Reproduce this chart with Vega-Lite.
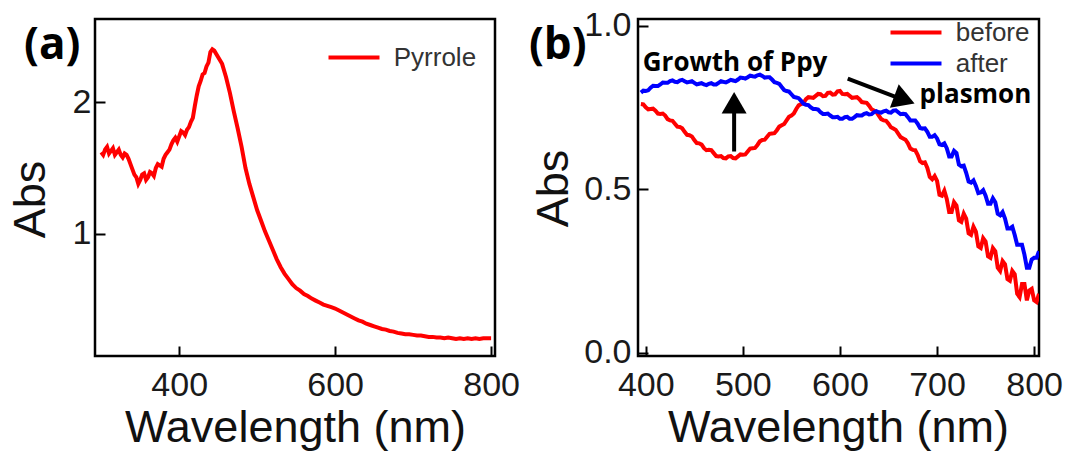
{
  "$schema": "https://vega.github.io/schema/vega-lite/v6.json",
  "padding": {"left": 6, "top": 7, "right": 0, "bottom": 0},
  "background": "white",
  "bounds": "flush",
  "spacing": 143,
  "resolve": {"scale": {"color": "independent"}, "legend": {"color": "independent"}},
  "config": {
    "view": {"stroke": "#000", "strokeWidth": 2.5},
    "axis": {
      "domain": false, "grid": false, "ticks": true, "tickColor": "#000", "tickWidth": 2, "tickSize": -10,
      "labelFont": "Liberation Sans", "labelFontSize": 34, "labelColor": "#1a1a1a",
      "labelOverlap": false, "labelFlush": false,
      "titleFont": "Liberation Sans", "titleFontSize": 45, "titleFontWeight": "normal", "titleColor": "#111"
    },
    "legend": {
      "orient": "none", "title": null, "padding": 0,
      "labelFont": "Liberation Sans", "labelFontSize": 26, "labelColor": "#333",
      "symbolType": "M-2,0H2", "symbolStrokeWidth": 4, "symbolSize": 650,
      "labelOffset": 24.75, "rowPadding": 3
    }
  },
  "datasets": {
    "pyrrole": [
      {"wavelength": 300, "abs": 1.62}, {"wavelength": 302.5, "abs": 1.60}, {"wavelength": 305, "abs": 1.64}, {"wavelength": 307.5, "abs": 1.66},
      {"wavelength": 310, "abs": 1.61}, {"wavelength": 312.5, "abs": 1.63}, {"wavelength": 315, "abs": 1.65}, {"wavelength": 317.5, "abs": 1.60},
      {"wavelength": 320, "abs": 1.62}, {"wavelength": 322.5, "abs": 1.64}, {"wavelength": 325, "abs": 1.60}, {"wavelength": 327.5, "abs": 1.58},
      {"wavelength": 330, "abs": 1.61}, {"wavelength": 332.5, "abs": 1.60}, {"wavelength": 335, "abs": 1.57}, {"wavelength": 337.5, "abs": 1.53},
      {"wavelength": 340, "abs": 1.49}, {"wavelength": 342.5, "abs": 1.45}, {"wavelength": 345, "abs": 1.43}, {"wavelength": 347.5, "abs": 1.38},
      {"wavelength": 350, "abs": 1.41}, {"wavelength": 352.5, "abs": 1.45}, {"wavelength": 355, "abs": 1.46}, {"wavelength": 357.5, "abs": 1.41},
      {"wavelength": 360, "abs": 1.43}, {"wavelength": 362.5, "abs": 1.47}, {"wavelength": 365, "abs": 1.46}, {"wavelength": 367.5, "abs": 1.44},
      {"wavelength": 370, "abs": 1.50}, {"wavelength": 372.5, "abs": 1.53}, {"wavelength": 375, "abs": 1.52}, {"wavelength": 377.5, "abs": 1.51},
      {"wavelength": 380, "abs": 1.57}, {"wavelength": 382.5, "abs": 1.60}, {"wavelength": 385, "abs": 1.62}, {"wavelength": 387.5, "abs": 1.64},
      {"wavelength": 390, "abs": 1.68}, {"wavelength": 392.5, "abs": 1.71}, {"wavelength": 395, "abs": 1.73}, {"wavelength": 397.5, "abs": 1.70},
      {"wavelength": 400, "abs": 1.74}, {"wavelength": 402.5, "abs": 1.78}, {"wavelength": 405, "abs": 1.77}, {"wavelength": 407.5, "abs": 1.75},
      {"wavelength": 410, "abs": 1.79}, {"wavelength": 412.5, "abs": 1.81}, {"wavelength": 415, "abs": 1.85}, {"wavelength": 417.5, "abs": 1.88},
      {"wavelength": 420, "abs": 1.97}, {"wavelength": 422.5, "abs": 2.05}, {"wavelength": 425, "abs": 2.12}, {"wavelength": 427.5, "abs": 2.16},
      {"wavelength": 430, "abs": 2.21}, {"wavelength": 432.5, "abs": 2.22}, {"wavelength": 435, "abs": 2.27}, {"wavelength": 437.5, "abs": 2.30},
      {"wavelength": 440, "abs": 2.38}, {"wavelength": 442.5, "abs": 2.40}, {"wavelength": 445, "abs": 2.39}, {"wavelength": 450, "abs": 2.34},
      {"wavelength": 455, "abs": 2.29}, {"wavelength": 460, "abs": 2.19}, {"wavelength": 465, "abs": 2.07}, {"wavelength": 470, "abs": 1.93},
      {"wavelength": 475, "abs": 1.80}, {"wavelength": 480, "abs": 1.66}, {"wavelength": 485, "abs": 1.50}, {"wavelength": 490, "abs": 1.38},
      {"wavelength": 495, "abs": 1.28}, {"wavelength": 500, "abs": 1.18}, {"wavelength": 505, "abs": 1.10}, {"wavelength": 510, "abs": 1.02},
      {"wavelength": 515, "abs": 0.95}, {"wavelength": 520, "abs": 0.88}, {"wavelength": 525, "abs": 0.81}, {"wavelength": 530, "abs": 0.75},
      {"wavelength": 535, "abs": 0.70}, {"wavelength": 540, "abs": 0.66}, {"wavelength": 545, "abs": 0.62}, {"wavelength": 550, "abs": 0.59},
      {"wavelength": 555, "abs": 0.57}, {"wavelength": 560, "abs": 0.545}, {"wavelength": 565, "abs": 0.53}, {"wavelength": 570, "abs": 0.51},
      {"wavelength": 575, "abs": 0.495}, {"wavelength": 580, "abs": 0.48}, {"wavelength": 585, "abs": 0.465}, {"wavelength": 590, "abs": 0.455},
      {"wavelength": 595, "abs": 0.445}, {"wavelength": 600, "abs": 0.435}, {"wavelength": 605, "abs": 0.42}, {"wavelength": 610, "abs": 0.405},
      {"wavelength": 615, "abs": 0.39}, {"wavelength": 620, "abs": 0.375}, {"wavelength": 625, "abs": 0.36}, {"wavelength": 630, "abs": 0.345},
      {"wavelength": 635, "abs": 0.335}, {"wavelength": 640, "abs": 0.32}, {"wavelength": 645, "abs": 0.31}, {"wavelength": 650, "abs": 0.30},
      {"wavelength": 655, "abs": 0.29}, {"wavelength": 660, "abs": 0.28}, {"wavelength": 665, "abs": 0.275}, {"wavelength": 670, "abs": 0.265},
      {"wavelength": 675, "abs": 0.26}, {"wavelength": 680, "abs": 0.25}, {"wavelength": 685, "abs": 0.245}, {"wavelength": 690, "abs": 0.24},
      {"wavelength": 695, "abs": 0.24}, {"wavelength": 700, "abs": 0.235}, {"wavelength": 705, "abs": 0.23}, {"wavelength": 710, "abs": 0.23},
      {"wavelength": 715, "abs": 0.225}, {"wavelength": 720, "abs": 0.22}, {"wavelength": 725, "abs": 0.22}, {"wavelength": 730, "abs": 0.215},
      {"wavelength": 735, "abs": 0.215}, {"wavelength": 740, "abs": 0.21}, {"wavelength": 745, "abs": 0.215}, {"wavelength": 750, "abs": 0.21},
      {"wavelength": 755, "abs": 0.205}, {"wavelength": 760, "abs": 0.21}, {"wavelength": 765, "abs": 0.205}, {"wavelength": 770, "abs": 0.21},
      {"wavelength": 775, "abs": 0.205}, {"wavelength": 780, "abs": 0.21}, {"wavelength": 785, "abs": 0.205}, {"wavelength": 790, "abs": 0.21},
      {"wavelength": 795, "abs": 0.21}, {"wavelength": 800, "abs": 0.21}
    ],
    "ppy": [
      {"series": "before", "wavelength": 395, "abs": 0.76}, {"series": "before", "wavelength": 397.5, "abs": 0.759}, {"series": "before", "wavelength": 400, "abs": 0.75}, {"series": "before", "wavelength": 402.5, "abs": 0.744},
      {"series": "before", "wavelength": 405, "abs": 0.745}, {"series": "before", "wavelength": 407.5, "abs": 0.746}, {"series": "before", "wavelength": 410, "abs": 0.74}, {"series": "before", "wavelength": 412.5, "abs": 0.731},
      {"series": "before", "wavelength": 415, "abs": 0.73}, {"series": "before", "wavelength": 417.5, "abs": 0.731}, {"series": "before", "wavelength": 420, "abs": 0.725}, {"series": "before", "wavelength": 422.5, "abs": 0.714},
      {"series": "before", "wavelength": 425, "abs": 0.71}, {"series": "before", "wavelength": 427.5, "abs": 0.709}, {"series": "before", "wavelength": 430, "abs": 0.70}, {"series": "before", "wavelength": 432.5, "abs": 0.691},
      {"series": "before", "wavelength": 435, "abs": 0.69}, {"series": "before", "wavelength": 437.5, "abs": 0.686}, {"series": "before", "wavelength": 440, "abs": 0.675}, {"series": "before", "wavelength": 442.5, "abs": 0.666},
      {"series": "before", "wavelength": 445, "abs": 0.665}, {"series": "before", "wavelength": 447.5, "abs": 0.661}, {"series": "before", "wavelength": 450, "abs": 0.65}, {"series": "before", "wavelength": 452.5, "abs": 0.641},
      {"series": "before", "wavelength": 455, "abs": 0.64}, {"series": "before", "wavelength": 457.5, "abs": 0.636}, {"series": "before", "wavelength": 460, "abs": 0.625}, {"series": "before", "wavelength": 462.5, "abs": 0.619},
      {"series": "before", "wavelength": 465, "abs": 0.62}, {"series": "before", "wavelength": 467.5, "abs": 0.619}, {"series": "before", "wavelength": 470, "abs": 0.61}, {"series": "before", "wavelength": 472.5, "abs": 0.601},
      {"series": "before", "wavelength": 475, "abs": 0.60}, {"series": "before", "wavelength": 477.5, "abs": 0.601}, {"series": "before", "wavelength": 480, "abs": 0.595}, {"series": "before", "wavelength": 482.5, "abs": 0.594},
      {"series": "before", "wavelength": 485, "abs": 0.60}, {"series": "before", "wavelength": 487.5, "abs": 0.601}, {"series": "before", "wavelength": 490, "abs": 0.595}, {"series": "before", "wavelength": 492.5, "abs": 0.594},
      {"series": "before", "wavelength": 495, "abs": 0.60}, {"series": "before", "wavelength": 497.5, "abs": 0.606}, {"series": "before", "wavelength": 500, "abs": 0.605}, {"series": "before", "wavelength": 502.5, "abs": 0.606},
      {"series": "before", "wavelength": 505, "abs": 0.615}, {"series": "before", "wavelength": 507.5, "abs": 0.624}, {"series": "before", "wavelength": 510, "abs": 0.625}, {"series": "before", "wavelength": 512.5, "abs": 0.626},
      {"series": "before", "wavelength": 515, "abs": 0.635}, {"series": "before", "wavelength": 517.5, "abs": 0.646}, {"series": "before", "wavelength": 520, "abs": 0.65}, {"series": "before", "wavelength": 522.5, "abs": 0.651},
      {"series": "before", "wavelength": 525, "abs": 0.66}, {"series": "before", "wavelength": 527.5, "abs": 0.669}, {"series": "before", "wavelength": 530, "abs": 0.67}, {"series": "before", "wavelength": 532.5, "abs": 0.671},
      {"series": "before", "wavelength": 535, "abs": 0.68}, {"series": "before", "wavelength": 537.5, "abs": 0.691}, {"series": "before", "wavelength": 540, "abs": 0.695}, {"series": "before", "wavelength": 542.5, "abs": 0.699},
      {"series": "before", "wavelength": 545, "abs": 0.71}, {"series": "before", "wavelength": 547.5, "abs": 0.721}, {"series": "before", "wavelength": 550, "abs": 0.725}, {"series": "before", "wavelength": 552.5, "abs": 0.731},
      {"series": "before", "wavelength": 555, "abs": 0.745}, {"series": "before", "wavelength": 557.5, "abs": 0.756}, {"series": "before", "wavelength": 560, "abs": 0.76}, {"series": "before", "wavelength": 562.5, "abs": 0.764},
      {"series": "before", "wavelength": 565, "abs": 0.775}, {"series": "before", "wavelength": 567.5, "abs": 0.781}, {"series": "before", "wavelength": 570, "abs": 0.78}, {"series": "before", "wavelength": 572.5, "abs": 0.779},
      {"series": "before", "wavelength": 575, "abs": 0.785}, {"series": "before", "wavelength": 577.5, "abs": 0.791}, {"series": "before", "wavelength": 580, "abs": 0.79}, {"series": "before", "wavelength": 582.5, "abs": 0.784},
      {"series": "before", "wavelength": 585, "abs": 0.785}, {"series": "before", "wavelength": 587.5, "abs": 0.794}, {"series": "before", "wavelength": 590, "abs": 0.795}, {"series": "before", "wavelength": 592.5, "abs": 0.789},
      {"series": "before", "wavelength": 595, "abs": 0.79}, {"series": "before", "wavelength": 597.5, "abs": 0.799}, {"series": "before", "wavelength": 600, "abs": 0.80}, {"series": "before", "wavelength": 602.5, "abs": 0.791},
      {"series": "before", "wavelength": 605, "abs": 0.79}, {"series": "before", "wavelength": 607.5, "abs": 0.791}, {"series": "before", "wavelength": 610, "abs": 0.785}, {"series": "before", "wavelength": 612.5, "abs": 0.779},
      {"series": "before", "wavelength": 615, "abs": 0.78}, {"series": "before", "wavelength": 617.5, "abs": 0.781}, {"series": "before", "wavelength": 620, "abs": 0.775}, {"series": "before", "wavelength": 622.5, "abs": 0.766},
      {"series": "before", "wavelength": 625, "abs": 0.765}, {"series": "before", "wavelength": 627.5, "abs": 0.764}, {"series": "before", "wavelength": 630, "abs": 0.755}, {"series": "before", "wavelength": 632.5, "abs": 0.744},
      {"series": "before", "wavelength": 635, "abs": 0.74}, {"series": "before", "wavelength": 637.5, "abs": 0.736}, {"series": "before", "wavelength": 640, "abs": 0.725}, {"series": "before", "wavelength": 642.5, "abs": 0.714},
      {"series": "before", "wavelength": 645, "abs": 0.71}, {"series": "before", "wavelength": 647.5, "abs": 0.709}, {"series": "before", "wavelength": 650, "abs": 0.70}, {"series": "before", "wavelength": 652.5, "abs": 0.689},
      {"series": "before", "wavelength": 655, "abs": 0.685}, {"series": "before", "wavelength": 657.5, "abs": 0.681}, {"series": "before", "wavelength": 660, "abs": 0.67}, {"series": "before", "wavelength": 662.5, "abs": 0.659},
      {"series": "before", "wavelength": 665, "abs": 0.655}, {"series": "before", "wavelength": 667.5, "abs": 0.651}, {"series": "before", "wavelength": 670, "abs": 0.64}, {"series": "before", "wavelength": 672.5, "abs": 0.624},
      {"series": "before", "wavelength": 675, "abs": 0.62}, {"series": "before", "wavelength": 677.5, "abs": 0.619}, {"series": "before", "wavelength": 680, "abs": 0.605}, {"series": "before", "wavelength": 682.5, "abs": 0.585},
      {"series": "before", "wavelength": 685, "abs": 0.58}, {"series": "before", "wavelength": 687.5, "abs": 0.582}, {"series": "before", "wavelength": 690, "abs": 0.565}, {"series": "before", "wavelength": 692.5, "abs": 0.537},
      {"series": "before", "wavelength": 695, "abs": 0.53}, {"series": "before", "wavelength": 697.5, "abs": 0.54}, {"series": "before", "wavelength": 700, "abs": 0.525}, {"series": "before", "wavelength": 702.5, "abs": 0.483},
      {"series": "before", "wavelength": 705, "abs": 0.48}, {"series": "before", "wavelength": 707.5, "abs": 0.495}, {"series": "before", "wavelength": 710, "abs": 0.47}, {"series": "before", "wavelength": 712.5, "abs": 0.43},
      {"series": "before", "wavelength": 715, "abs": 0.43}, {"series": "before", "wavelength": 717.5, "abs": 0.46}, {"series": "before", "wavelength": 720, "abs": 0.45}, {"series": "before", "wavelength": 722.5, "abs": 0.405},
      {"series": "before", "wavelength": 725, "abs": 0.40}, {"series": "before", "wavelength": 727.5, "abs": 0.425}, {"series": "before", "wavelength": 730, "abs": 0.41}, {"series": "before", "wavelength": 732.5, "abs": 0.365},
      {"series": "before", "wavelength": 735, "abs": 0.36}, {"series": "before", "wavelength": 737.5, "abs": 0.385}, {"series": "before", "wavelength": 740, "abs": 0.37}, {"series": "before", "wavelength": 742.5, "abs": 0.325},
      {"series": "before", "wavelength": 745, "abs": 0.32}, {"series": "before", "wavelength": 747.5, "abs": 0.35}, {"series": "before", "wavelength": 750, "abs": 0.34}, {"series": "before", "wavelength": 752.5, "abs": 0.295},
      {"series": "before", "wavelength": 755, "abs": 0.29}, {"series": "before", "wavelength": 757.5, "abs": 0.32}, {"series": "before", "wavelength": 760, "abs": 0.31}, {"series": "before", "wavelength": 762.5, "abs": 0.26},
      {"series": "before", "wavelength": 765, "abs": 0.25}, {"series": "before", "wavelength": 767.5, "abs": 0.28}, {"series": "before", "wavelength": 770, "abs": 0.27}, {"series": "before", "wavelength": 772.5, "abs": 0.225},
      {"series": "before", "wavelength": 775, "abs": 0.22}, {"series": "before", "wavelength": 777.5, "abs": 0.25}, {"series": "before", "wavelength": 780, "abs": 0.24}, {"series": "before", "wavelength": 782.5, "abs": 0.18},
      {"series": "before", "wavelength": 785, "abs": 0.17}, {"series": "before", "wavelength": 787.5, "abs": 0.21}, {"series": "before", "wavelength": 790, "abs": 0.21}, {"series": "before", "wavelength": 792.5, "abs": 0.16},
      {"series": "before", "wavelength": 795, "abs": 0.19}, {"series": "before", "wavelength": 797.5, "abs": 0.195}, {"series": "before", "wavelength": 800, "abs": 0.16}, {"series": "before", "wavelength": 802.5, "abs": 0.155},
      {"series": "before", "wavelength": 805, "abs": 0.18},
      {"series": "after", "wavelength": 395, "abs": 0.795}, {"series": "after", "wavelength": 397.5, "abs": 0.801}, {"series": "after", "wavelength": 400, "abs": 0.80}, {"series": "after", "wavelength": 402.5, "abs": 0.802},
      {"series": "after", "wavelength": 405, "abs": 0.81}, {"series": "after", "wavelength": 407.5, "abs": 0.816}, {"series": "after", "wavelength": 410, "abs": 0.815}, {"series": "after", "wavelength": 412.5, "abs": 0.815},
      {"series": "after", "wavelength": 415, "abs": 0.82}, {"series": "after", "wavelength": 417.5, "abs": 0.826}, {"series": "after", "wavelength": 420, "abs": 0.825}, {"series": "after", "wavelength": 422.5, "abs": 0.825},
      {"series": "after", "wavelength": 425, "abs": 0.83}, {"series": "after", "wavelength": 427.5, "abs": 0.832}, {"series": "after", "wavelength": 430, "abs": 0.828}, {"series": "after", "wavelength": 432.5, "abs": 0.827},
      {"series": "after", "wavelength": 435, "abs": 0.832}, {"series": "after", "wavelength": 437.5, "abs": 0.834}, {"series": "after", "wavelength": 440, "abs": 0.83}, {"series": "after", "wavelength": 442.5, "abs": 0.826},
      {"series": "after", "wavelength": 445, "abs": 0.828}, {"series": "after", "wavelength": 447.5, "abs": 0.83}, {"series": "after", "wavelength": 450, "abs": 0.825}, {"series": "after", "wavelength": 452.5, "abs": 0.82},
      {"series": "after", "wavelength": 455, "abs": 0.822}, {"series": "after", "wavelength": 457.5, "abs": 0.824}, {"series": "after", "wavelength": 460, "abs": 0.82}, {"series": "after", "wavelength": 462.5, "abs": 0.818},
      {"series": "after", "wavelength": 465, "abs": 0.822}, {"series": "after", "wavelength": 467.5, "abs": 0.824}, {"series": "after", "wavelength": 470, "abs": 0.82}, {"series": "after", "wavelength": 472.5, "abs": 0.82},
      {"series": "after", "wavelength": 475, "abs": 0.825}, {"series": "after", "wavelength": 477.5, "abs": 0.83}, {"series": "after", "wavelength": 480, "abs": 0.828}, {"series": "after", "wavelength": 482.5, "abs": 0.826},
      {"series": "after", "wavelength": 485, "abs": 0.83}, {"series": "after", "wavelength": 487.5, "abs": 0.834}, {"series": "after", "wavelength": 490, "abs": 0.832}, {"series": "after", "wavelength": 492.5, "abs": 0.83},
      {"series": "after", "wavelength": 495, "abs": 0.835}, {"series": "after", "wavelength": 497.5, "abs": 0.841}, {"series": "after", "wavelength": 500, "abs": 0.84}, {"series": "after", "wavelength": 502.5, "abs": 0.838},
      {"series": "after", "wavelength": 505, "abs": 0.842}, {"series": "after", "wavelength": 507.5, "abs": 0.847}, {"series": "after", "wavelength": 510, "abs": 0.845}, {"series": "after", "wavelength": 512.5, "abs": 0.844},
      {"series": "after", "wavelength": 515, "abs": 0.848}, {"series": "after", "wavelength": 517.5, "abs": 0.85}, {"series": "after", "wavelength": 520, "abs": 0.846}, {"series": "after", "wavelength": 522.5, "abs": 0.841},
      {"series": "after", "wavelength": 525, "abs": 0.842}, {"series": "after", "wavelength": 527.5, "abs": 0.842}, {"series": "after", "wavelength": 530, "abs": 0.835}, {"series": "after", "wavelength": 532.5, "abs": 0.827},
      {"series": "after", "wavelength": 535, "abs": 0.825}, {"series": "after", "wavelength": 537.5, "abs": 0.822}, {"series": "after", "wavelength": 540, "abs": 0.812}, {"series": "after", "wavelength": 542.5, "abs": 0.803},
      {"series": "after", "wavelength": 545, "abs": 0.80}, {"series": "after", "wavelength": 547.5, "abs": 0.798}, {"series": "after", "wavelength": 550, "abs": 0.79}, {"series": "after", "wavelength": 552.5, "abs": 0.782},
      {"series": "after", "wavelength": 555, "abs": 0.78}, {"series": "after", "wavelength": 557.5, "abs": 0.778}, {"series": "after", "wavelength": 560, "abs": 0.77}, {"series": "after", "wavelength": 562.5, "abs": 0.761},
      {"series": "after", "wavelength": 565, "abs": 0.758}, {"series": "after", "wavelength": 567.5, "abs": 0.757}, {"series": "after", "wavelength": 570, "abs": 0.75}, {"series": "after", "wavelength": 572.5, "abs": 0.745},
      {"series": "after", "wavelength": 575, "abs": 0.745}, {"series": "after", "wavelength": 577.5, "abs": 0.743}, {"series": "after", "wavelength": 580, "abs": 0.735}, {"series": "after", "wavelength": 582.5, "abs": 0.73},
      {"series": "after", "wavelength": 585, "abs": 0.73}, {"series": "after", "wavelength": 587.5, "abs": 0.731}, {"series": "after", "wavelength": 590, "abs": 0.725}, {"series": "after", "wavelength": 592.5, "abs": 0.72},
      {"series": "after", "wavelength": 595, "abs": 0.72}, {"series": "after", "wavelength": 597.5, "abs": 0.721}, {"series": "after", "wavelength": 600, "abs": 0.715}, {"series": "after", "wavelength": 602.5, "abs": 0.715},
      {"series": "after", "wavelength": 605, "abs": 0.72}, {"series": "after", "wavelength": 607.5, "abs": 0.721}, {"series": "after", "wavelength": 610, "abs": 0.715}, {"series": "after", "wavelength": 612.5, "abs": 0.715},
      {"series": "after", "wavelength": 615, "abs": 0.72}, {"series": "after", "wavelength": 617.5, "abs": 0.726}, {"series": "after", "wavelength": 620, "abs": 0.725}, {"series": "after", "wavelength": 622.5, "abs": 0.725},
      {"series": "after", "wavelength": 625, "abs": 0.73}, {"series": "after", "wavelength": 627.5, "abs": 0.732}, {"series": "after", "wavelength": 630, "abs": 0.728}, {"series": "after", "wavelength": 632.5, "abs": 0.729},
      {"series": "after", "wavelength": 635, "abs": 0.735}, {"series": "after", "wavelength": 637.5, "abs": 0.738}, {"series": "after", "wavelength": 640, "abs": 0.735}, {"series": "after", "wavelength": 642.5, "abs": 0.734},
      {"series": "after", "wavelength": 645, "abs": 0.738}, {"series": "after", "wavelength": 647.5, "abs": 0.74}, {"series": "after", "wavelength": 650, "abs": 0.735}, {"series": "after", "wavelength": 652.5, "abs": 0.734},
      {"series": "after", "wavelength": 655, "abs": 0.74}, {"series": "after", "wavelength": 657.5, "abs": 0.741}, {"series": "after", "wavelength": 660, "abs": 0.735}, {"series": "after", "wavelength": 662.5, "abs": 0.729},
      {"series": "after", "wavelength": 665, "abs": 0.73}, {"series": "after", "wavelength": 667.5, "abs": 0.729}, {"series": "after", "wavelength": 670, "abs": 0.72}, {"series": "after", "wavelength": 672.5, "abs": 0.71},
      {"series": "after", "wavelength": 675, "abs": 0.71}, {"series": "after", "wavelength": 677.5, "abs": 0.71}, {"series": "after", "wavelength": 680, "abs": 0.70}, {"series": "after", "wavelength": 682.5, "abs": 0.687},
      {"series": "after", "wavelength": 685, "abs": 0.685}, {"series": "after", "wavelength": 687.5, "abs": 0.686}, {"series": "after", "wavelength": 690, "abs": 0.675}, {"series": "after", "wavelength": 692.5, "abs": 0.66},
      {"series": "after", "wavelength": 695, "abs": 0.66}, {"series": "after", "wavelength": 697.5, "abs": 0.665}, {"series": "after", "wavelength": 700, "abs": 0.655}, {"series": "after", "wavelength": 702.5, "abs": 0.637},
      {"series": "after", "wavelength": 705, "abs": 0.635}, {"series": "after", "wavelength": 707.5, "abs": 0.64}, {"series": "after", "wavelength": 710, "abs": 0.625}, {"series": "after", "wavelength": 712.5, "abs": 0.60},
      {"series": "after", "wavelength": 715, "abs": 0.60}, {"series": "after", "wavelength": 717.5, "abs": 0.617}, {"series": "after", "wavelength": 720, "abs": 0.61}, {"series": "after", "wavelength": 722.5, "abs": 0.575},
      {"series": "after", "wavelength": 725, "abs": 0.57}, {"series": "after", "wavelength": 727.5, "abs": 0.572}, {"series": "after", "wavelength": 730, "abs": 0.55}, {"series": "after", "wavelength": 732.5, "abs": 0.523},
      {"series": "after", "wavelength": 735, "abs": 0.52}, {"series": "after", "wavelength": 737.5, "abs": 0.527}, {"series": "after", "wavelength": 740, "abs": 0.51}, {"series": "after", "wavelength": 742.5, "abs": 0.488},
      {"series": "after", "wavelength": 745, "abs": 0.49}, {"series": "after", "wavelength": 747.5, "abs": 0.497}, {"series": "after", "wavelength": 750, "abs": 0.48}, {"series": "after", "wavelength": 752.5, "abs": 0.455},
      {"series": "after", "wavelength": 755, "abs": 0.455}, {"series": "after", "wavelength": 757.5, "abs": 0.472}, {"series": "after", "wavelength": 760, "abs": 0.46}, {"series": "after", "wavelength": 762.5, "abs": 0.425},
      {"series": "after", "wavelength": 765, "abs": 0.42}, {"series": "after", "wavelength": 767.5, "abs": 0.43}, {"series": "after", "wavelength": 770, "abs": 0.41}, {"series": "after", "wavelength": 772.5, "abs": 0.38},
      {"series": "after", "wavelength": 775, "abs": 0.38}, {"series": "after", "wavelength": 777.5, "abs": 0.385}, {"series": "after", "wavelength": 780, "abs": 0.36}, {"series": "after", "wavelength": 782.5, "abs": 0.33},
      {"series": "after", "wavelength": 785, "abs": 0.33}, {"series": "after", "wavelength": 787.5, "abs": 0.33}, {"series": "after", "wavelength": 790, "abs": 0.30}, {"series": "after", "wavelength": 792.5, "abs": 0.26},
      {"series": "after", "wavelength": 795, "abs": 0.26}, {"series": "after", "wavelength": 797.5, "abs": 0.285}, {"series": "after", "wavelength": 800, "abs": 0.29}, {"series": "after", "wavelength": 802.5, "abs": 0.29},
      {"series": "after", "wavelength": 805, "abs": 0.31}
    ]
  },
  "hconcat": [
    {
      "width": 400,
      "height": 337,
      "layer": [
        {
          "data": {"name": "pyrrole"},
          "mark": {"type": "line", "strokeWidth": 4, "clip": true},
          "encoding": {
            "x": {"field": "wavelength", "type": "quantitative",
              "scale": {"domain": [292, 805], "nice": false, "zero": false},
              "axis": {"values": [400, 600, 800], "format": "d", "title": "Wavelength (nm)", "labelPadding": 22,
                "titleX": 200, "titleY": 85, "titleAlign": "center", "titleBaseline": "alphabetic"}},
            "y": {"field": "abs", "type": "quantitative",
              "scale": {"domain": [0.075, 2.63], "nice": false, "zero": false},
              "axis": {"values": [1, 2], "format": "d", "title": "Abs", "labelPadding": 14,
                "titleAngle": 270, "titleX": -51, "titleY": 180, "titleAlign": "center", "titleBaseline": "alphabetic"}},
            "color": {"datum": "Pyrrole", "type": "nominal",
              "scale": {"domain": ["Pyrrole"], "range": ["#ff0000"]},
              "legend": {"legendX": 244, "legendY": 23.5}}
          }
        },
        {
          "data": {"values": [{"wavelength": 201, "abs": 2.327, "label": "(a)"}]},
          "mark": {"type": "text", "align": "left", "baseline": "alphabetic", "clip": false, "font": "Open Sans", "fontWeight": "bold", "fontSize": 44, "color": "#000"},
          "encoding": {
            "x": {"field": "wavelength", "type": "quantitative"},
            "y": {"field": "abs", "type": "quantitative"},
            "text": {"field": "label"}
          }
        }
      ]
    },
    {
      "width": 401,
      "height": 337,
      "layer": [
        {
          "data": {"name": "ppy"},
          "mark": {"type": "line", "strokeWidth": 4, "clip": true},
          "encoding": {
            "x": {"field": "wavelength", "type": "quantitative",
              "scale": {"domain": [392, 805], "nice": false, "zero": false},
              "axis": {"values": [400, 500, 600, 700, 800], "format": "d", "title": "Wavelength (nm)", "labelPadding": 22,
                "titleX": 200, "titleY": 85, "titleAlign": "center", "titleBaseline": "alphabetic"}},
            "y": {"field": "abs", "type": "quantitative",
              "scale": {"domain": [-0.01, 1.02], "nice": false, "zero": false},
              "axis": {"values": [0, 0.5, 1.0], "format": ".1f", "title": "Abs", "labelPadding": 17,
                "titleAngle": 270, "titleX": -71, "titleY": 169, "titleAlign": "center", "titleBaseline": "alphabetic"}},
            "color": {"field": "series", "type": "nominal",
              "scale": {"domain": ["before", "after"], "range": ["#ff0000", "#0000ff"]},
              "legend": {"legendX": 263, "legendY": -1.5}}
          }
        },
        {
          "data": {"values": [{"wavelength": 491, "abs": 0.615, "wavelength2": 491, "abs2": 0.77}, {"wavelength": 608, "abs": 0.838, "wavelength2": 664, "abs2": 0.774}]},
          "mark": {"type": "rule", "strokeWidth": 4, "color": "#000"},
          "encoding": {
            "x": {"field": "wavelength", "type": "quantitative"},
            "y": {"field": "abs", "type": "quantitative"},
            "x2": {"field": "wavelength2"},
            "y2": {"field": "abs2"}
          }
        },
        {
          "data": {"values": [{"wavelength": 491, "abs": 0.764, "angle": 0}, {"wavelength": 666.4, "abs": 0.773, "angle": 110.6}]},
          "mark": {"type": "point", "shape": "triangle-up", "filled": true, "size": 625, "color": "#000", "opacity": 1},
          "encoding": {
            "x": {"field": "wavelength", "type": "quantitative"},
            "y": {"field": "abs", "type": "quantitative"},
            "angle": {"field": "angle", "type": "quantitative", "scale": null}
          }
        },
        {
          "data": {"values": [{"wavelength": 492, "abs": 0.862, "label": "Growth of Ppy"}]},
          "mark": {"type": "text", "align": "center", "baseline": "alphabetic", "font": "Open Sans", "fontWeight": "bold", "fontSize": 26, "color": "#000"},
          "encoding": {
            "x": {"field": "wavelength", "type": "quantitative"},
            "y": {"field": "abs", "type": "quantitative"},
            "text": {"field": "label"}
          }
        },
        {
          "data": {"values": [{"wavelength": 682, "abs": 0.762, "label": "plasmon"}]},
          "mark": {"type": "text", "align": "left", "baseline": "alphabetic", "font": "Open Sans", "fontWeight": "bold", "fontSize": 26, "color": "#000"},
          "encoding": {
            "x": {"field": "wavelength", "type": "quantitative"},
            "y": {"field": "abs", "type": "quantitative"},
            "text": {"field": "label"}
          }
        },
        {
          "data": {"values": [{"wavelength": 279.7, "abs": 0.898, "label": "(b)"}]},
          "mark": {"type": "text", "align": "left", "baseline": "alphabetic", "clip": false, "font": "Open Sans", "fontWeight": "bold", "fontSize": 44, "color": "#000"},
          "encoding": {
            "x": {"field": "wavelength", "type": "quantitative"},
            "y": {"field": "abs", "type": "quantitative"},
            "text": {"field": "label"}
          }
        }
      ]
    }
  ]
}
